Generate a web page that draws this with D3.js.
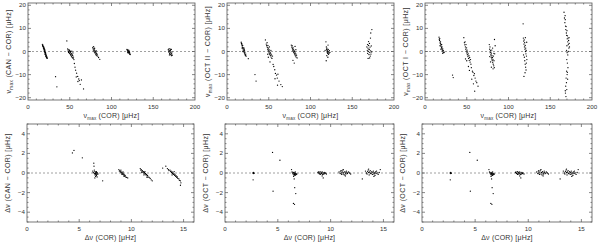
<!DOCTYPE html>
<html>
<head>
<meta charset="utf-8">
<script src="https://cdn.jsdelivr.net/npm/d3@7"></script>
<style>
body{margin:0;background:#fff;}
text{font-family:"Liberation Sans",Arial,sans-serif;fill:#333;}
</style>
</head>
<body>
<div id="grafico"></div>
<script>
const WIDTH = 600;
const HEIGHT = 244;

// nu_max (CAN - COR) vs nu_max (COR)
const numaxCan = [
  [17.2,3.1],[17.5,2.6],[17.8,2.2],[18.0,2.8],[18.3,1.9],[18.5,1.5],[18.7,2.1],[19.0,1.2],[19.2,0.8],[19.4,1.4],[19.6,0.5],[19.8,0.2],[20.0,0.9],[20.1,-0.2],[20.3,-0.5],[20.5,0.3],[20.7,-0.8],[20.9,-1.1],[21.0,-0.4],[21.2,-1.5],[21.4,-1.0],[21.6,-1.9],[21.8,-2.3],[22.0,-1.6],[22.2,-2.6],[22.5,-2.1],[22.8,-3.0],[23.2,-2.8],[19.5,0.0],[20.4,-1.2],[18.9,1.7],[21.1,-2.0],
  [33.0,-10.9],[34.6,-15.3],
  [46.5,4.6],[47.5,1.1],[48.0,0.6],[48.3,0.0],[48.6,-0.4],[49.0,0.8],[49.3,-0.2],[49.6,-0.8],[50.0,0.3],[50.3,-1.0],[50.6,-0.5],[51.0,-1.4],[51.3,-0.1],[51.6,-1.8],[52.0,-0.9],[52.3,-2.2],[52.7,-1.3],[53.0,-2.6],[53.5,-1.7],[54.0,-3.0],[54.5,-2.4],[49.8,0.5],[50.9,0.0],[52.5,0.2],[53.8,-0.6],[55.0,-3.5],[55.5,-5.2],[56.3,-6.8],[57.0,-8.1],[58.2,-9.4],[59.5,-10.8],[60.8,-11.9],[61.5,-12.6],[59.8,-13.0],[62.5,-14.2],[64.0,-12.3],[66.5,-16.2],[57.8,-11.0],
  [77.5,1.8],[78.0,1.2],[78.3,0.6],[78.6,2.1],[79.0,0.2],[79.3,1.0],[79.6,-0.3],[80.0,0.5],[80.3,-0.7],[80.6,0.0],[81.0,-1.1],[81.3,-0.4],[81.6,-1.5],[82.0,-0.9],[82.4,-1.8],[82.8,-1.2],[83.5,-2.0],[84.5,-2.6],[86.0,-3.4],[79.8,1.4],[81.8,0.3],
  [118.5,0.9],[119.0,0.4],[119.3,0.7],[119.6,0.1],[119.9,-0.2],[120.2,0.3],[120.5,-0.5],[120.8,-0.1],[121.1,-0.8],[121.4,-0.4],[121.7,-1.1],[122.0,-0.7],[122.4,-1.3],[119.4,-0.5],[120.6,0.6],[121.5,0.2],
  [168.0,0.8],[168.4,0.2],[168.8,-0.3],[169.2,0.5],[169.6,-0.8],[170.0,0.0],[170.3,-1.2],[170.6,0.4],[171.0,-0.5],[171.3,-1.4],[171.6,0.9],[172.0,-0.9],[172.4,-0.2],[172.8,-1.6],[169.0,1.2],[170.8,1.0],[171.8,-1.8],[169.4,-1.5]
];

// nu_max (OCT II - COR)
const numaxOct2 = [
  [17.0,4.0],[17.3,3.5],[17.6,2.9],[17.9,3.3],[18.2,2.4],[18.5,1.8],[18.8,2.6],[19.1,1.3],[19.4,0.7],[19.7,1.6],[20.0,0.3],[20.3,-0.2],[20.6,0.9],[20.9,-0.6],[21.2,-1.0],[21.5,-0.3],[21.8,-1.4],[22.1,-1.8],[22.5,-1.1],[23.0,-2.0],[19.0,0.0],[20.5,1.5],[18.0,1.5],[21.0,0.4],[25.5,-3.1],
  [33.5,-10.0],[34.8,-12.8],
  [46.0,5.0],[47.0,3.2],[47.5,2.5],[48.0,3.8],[48.3,1.8],[48.7,1.0],[49.0,2.6],[49.4,0.4],[49.7,1.5],[50.0,-0.2],[50.3,0.8],[50.6,-0.8],[51.0,0.2],[51.3,-1.3],[51.7,-0.4],[52.0,-1.8],[52.4,-0.9],[52.8,-2.4],[53.3,-1.5],[53.8,-3.0],[54.5,-2.0],[48.8,-1.2],[50.8,2.0],[52.6,0.5],[49.5,-2.5],[51.5,-4.5],[55.2,-5.6],[56.0,-6.5],[57.2,-7.9],[58.0,-9.5],[59.3,-10.2],[60.2,-11.5],[61.0,-9.8],[62.3,-12.8],[60.5,-14.6],[64.5,-14.3],[66.2,-15.2],[57.5,-11.8],
  [77.0,2.8],[77.5,1.9],[78.0,2.5],[78.3,1.2],[78.6,0.6],[79.0,1.8],[79.3,0.1],[79.6,1.0],[80.0,-0.4],[80.3,0.5],[80.6,-0.9],[81.0,0.0],[81.3,-1.4],[81.6,-0.6],[82.0,-1.9],[82.4,-1.0],[82.8,-2.4],[83.3,-1.6],[84.0,-2.8],[79.0,-3.8],[80.5,-5.0],[81.5,2.2],[82.5,0.8],
  [118.5,4.2],[119.0,2.0],[119.3,0.8],[119.6,1.4],[119.8,0.2],[120.0,-0.3],[120.2,0.6],[120.4,-0.8],[120.6,0.1],[120.9,-0.5],[121.2,0.9],[121.5,-1.2],[121.8,-0.2],[122.2,-0.9],[122.6,0.4],[119.5,-1.8],[120.8,-2.5],[118.8,-4.0],[121.0,2.8],[123.2,-0.4],[117.5,0.5],
  [167.5,2.0],[168.0,0.5],[168.4,-0.8],[168.8,1.5],[169.2,0.0],[169.6,2.6],[170.0,-1.3],[170.3,0.8],[170.6,3.5],[171.0,-0.4],[171.3,1.9],[171.6,-2.0],[172.0,0.3],[172.4,-1.1],[172.8,2.4],[173.2,-0.2],[169.0,-3.0],[170.8,-2.8],[169.5,4.3],[171.8,5.8],[172.2,8.0],[173.5,9.5],[168.3,3.0],[170.1,1.0]
];

// nu_max (OCT I - COR)
const numaxOct1 = [
  [16.8,6.2],[17.1,5.3],[17.4,4.8],[17.7,5.6],[18.0,4.1],[18.3,3.5],[18.6,4.2],[18.9,2.9],[19.2,2.3],[19.5,3.1],[19.8,1.8],[20.1,1.2],[20.4,2.0],[20.7,0.7],[21.0,0.3],[21.3,1.1],[21.6,-0.2],[22.0,0.4],[22.4,-0.5],[23.0,-0.3],[19.0,1.0],[20.0,3.0],[18.0,2.5],[21.2,-0.8],
  [33.0,-10.2],[33.8,-11.3],
  [46.5,6.0],[47.2,3.8],[47.6,2.9],[48.0,4.2],[48.4,2.0],[48.8,1.0],[49.1,3.0],[49.5,0.2],[49.8,1.6],[50.1,-0.6],[50.4,0.6],[50.7,-1.4],[51.0,-0.2],[51.4,-2.2],[51.8,-1.0],[52.2,-3.0],[52.6,-1.8],[53.0,-3.8],[53.5,-2.6],[54.0,-4.6],[54.5,-3.5],[55.0,-5.5],[50.0,-4.0],[52.0,-6.5],[53.2,-8.2],[48.5,-3.2],[55.5,-7.0],[56.8,-8.5],[57.5,-9.0],[58.5,-10.4],[59.2,-9.6],[60.0,-11.5],[61.0,-12.8],[62.0,-13.5],[58.0,-14.0],[59.5,-17.2],[63.5,-15.0],[56.0,-12.0],
  [77.0,3.0],[77.4,1.0],[77.8,2.0],[78.1,-0.5],[78.4,0.5],[78.7,-1.5],[79.0,-0.3],[79.3,-2.5],[79.6,-1.0],[79.9,-3.2],[80.2,-1.8],[80.5,-4.0],[80.8,-2.6],[81.1,-4.8],[81.4,-3.4],[81.7,-5.5],[82.0,-2.0],[82.3,-6.2],[82.6,-4.0],[83.0,-7.0],[80.0,0.6],[81.0,1.5],[82.5,-0.8],[78.5,-4.5],[83.2,5.2],[84.0,2.5],[79.5,-6.8],[81.5,-7.5],[77.5,-2.2],[83.5,-1.0],
  [117.8,5.8],[118.2,4.5],[118.5,3.2],[118.8,5.0],[119.1,2.0],[119.4,3.8],[119.7,1.0],[120.0,2.6],[120.3,0.0],[120.6,1.5],[120.9,-1.0],[121.2,0.5],[121.5,-2.0],[119.0,-2.5],[119.5,-4.0],[120.0,-5.5],[120.5,-6.8],[121.0,-8.0],[119.8,-9.2],[118.5,-10.8],[117.5,12.0],[121.8,4.0],[120.2,6.0],[122.0,-3.5],[118.0,-1.5],[121.4,-5.0],
  [166.5,17.0],[167.0,14.5],[167.5,12.5],[168.0,13.8],[168.3,11.0],[168.6,9.5],[169.0,10.8],[169.3,8.0],[169.6,7.0],[170.0,9.0],[170.3,5.5],[170.6,6.8],[171.0,4.2],[171.3,5.8],[171.6,3.0],[172.0,4.8],[172.3,1.5],[172.6,3.5],[173.0,2.0],[169.5,0.5],[170.2,-0.5],[171.0,-1.5],[169.8,-3.5],[170.5,-5.0],[171.2,-7.0],[169.6,-8.5],[170.2,-10.0],[169.0,-11.5],[170.8,-12.0],[169.4,-13.5],[168.5,-15.0],[169.8,-16.5],[168.2,-18.0],[168.8,-19.5],[170.5,-9.0],[172.5,6.0],[167.8,15.5],[171.5,0.0],[170.0,2.5],[168.0,-17.0]
];

// delta nu (CAN - COR) vs delta nu (COR)
const dnuCan = [
  [4.35,2.05],[4.5,2.3],[5.3,1.55],[7.25,-0.8],
  [6.3,0.2],[6.35,0.05],[6.4,1.0],[6.42,0.7],[6.45,-0.05],[6.5,0.15],[6.52,-0.2],[6.55,0.0],[6.58,-0.35],[6.6,0.1],[6.62,-0.1],[6.65,-0.25],[6.68,0.05],[6.7,-0.15],[6.72,-0.4],[6.75,0.0],[6.5,-0.5],[6.8,-0.1],[6.6,-0.05],[6.45,0.3],[6.55,-0.1],[6.65,0.15],
  [8.8,0.35],[8.85,0.2],[8.9,0.25],[8.95,0.1],[9.0,0.15],[9.05,0.0],[9.1,0.05],[9.15,-0.1],[9.2,-0.05],[9.25,-0.2],[9.3,-0.15],[9.35,-0.3],[9.4,-0.25],[9.45,-0.4],[9.55,-0.45],[9.0,0.3],[9.2,0.1],[9.3,-0.35],[9.1,-0.15],[9.65,-0.5],
  [10.85,0.45],[10.9,0.3],[10.95,0.35],[11.0,0.2],[11.05,0.25],[11.1,0.1],[11.15,0.15],[11.2,0.0],[11.25,0.05],[11.3,-0.1],[11.35,-0.05],[11.4,-0.2],[11.45,-0.15],[11.5,-0.3],[11.55,-0.25],[11.6,-0.4],[11.7,-0.45],[11.8,-0.55],[11.9,-0.7],[12.0,-0.8],[11.0,0.05],[11.3,0.15],[11.5,-0.45],[11.2,-0.2],
  [13.3,0.7],[13.45,0.45],[13.55,0.35],[13.6,0.25],[13.7,0.3],[13.75,0.15],[13.8,0.2],[13.85,0.05],[13.9,0.1],[13.95,-0.05],[14.0,0.0],[14.05,-0.15],[14.1,-0.1],[14.15,-0.25],[14.2,-0.2],[14.25,-0.35],[14.3,-0.3],[14.35,-0.45],[14.4,-0.4],[14.45,-0.55],[14.55,-0.6],[14.6,-0.75],[14.7,-0.8],[14.75,-1.0],[14.7,-1.25],[13.0,0.5],[13.9,-0.2],[14.1,0.15]
];

// delta nu (OCT - COR), same in the two OCT panels
const dnuOct = [
  [2.65,0.0],[2.7,0.05],[2.75,-0.03],[2.7,-0.05],[2.72,0.02],[2.68,0.0],[2.66,-0.7],
  [4.5,2.1],[4.55,-1.85],[5.2,1.3],
  [6.3,0.35],[6.35,0.1],[6.4,0.0],[6.45,-0.1],[6.5,0.05],[6.52,-0.2],[6.55,-0.05],[6.58,-0.15],[6.6,0.0],[6.62,-0.25],[6.65,-0.1],[6.68,-0.2],[6.7,-0.05],[6.75,-0.15],[6.8,-0.1],[6.55,-0.6],[6.6,-1.5],[6.7,-2.1],[6.48,-3.1],[6.58,-3.2],[6.5,-0.35],[6.65,0.1],
  [8.8,0.05],[8.85,0.1],[8.9,-0.05],[8.95,0.0],[9.0,0.15],[9.05,-0.1],[9.1,0.05],[9.15,-0.05],[9.2,0.1],[9.25,-0.15],[9.3,0.0],[9.35,-0.1],[9.4,0.05],[9.45,-0.05],[9.5,0.0],[9.6,-0.1],[9.3,-0.5],[9.0,-0.15],[9.2,-0.3],
  [10.8,0.1],[10.9,-0.05],[10.95,0.2],[11.0,0.0],[11.05,-0.15],[11.1,0.1],[11.15,0.3],[11.2,-0.1],[11.25,0.05],[11.3,-0.2],[11.35,0.15],[11.4,0.0],[11.45,-0.1],[11.5,0.2],[11.55,0.05],[11.6,-0.05],[11.7,0.1],[11.8,0.0],[11.9,-0.1],[11.2,0.35],[11.4,-0.3],[11.0,0.25],
  [13.3,0.2],[13.4,0.0],[13.45,-0.1],[13.5,0.15],[13.55,0.3],[13.6,0.05],[13.65,-0.2],[13.7,0.1],[13.75,0.25],[13.8,-0.05],[13.85,0.0],[13.9,0.15],[13.95,-0.15],[14.0,0.05],[14.05,0.2],[14.1,-0.1],[14.15,0.0],[14.2,-0.25],[14.25,0.1],[14.3,-0.05],[14.4,0.0],[14.5,-0.15],[14.6,0.05],[14.7,0.35],[13.0,-0.6],[13.6,0.4],[14.1,-0.35],[14.35,0.2]
];

// tick values
const numaxXTicks = [0,50,100,150,200];
const numaxYTicks = [-20,-10,0,10,20];
const dnuXTicks = [0,5,10,15];
const dnuYTicks = [-4,-2,0,2,4];

let svg = d3.select("#grafico")
    .append("svg")
    .attr("width",WIDTH)
    .attr("height",HEIGHT);

let top_ = {xDom:[0,200], yDom:[-21,21], xTicks:numaxXTicks, yTicks:numaxYTicks, xMinor:10, yMinor:2, sym:"\u03bd", sub:"max"};
let bot_ = {xDom:[0,16], yDom:[-5,5], xTicks:dnuXTicks, yTicks:dnuYTicks, xMinor:1, yMinor:0.5, sym:"\u0394\u03bd", sub:null};

let panels = [
  Object.assign({data:numaxCan,  box:[28,3,195,100],  who:"CAN \u2212 COR"}, top_),
  Object.assign({data:numaxOct2, box:[227,3,394,100], who:"OCT II \u2212 COR"}, top_),
  Object.assign({data:numaxOct1, box:[425,3,592,100], who:"OCT I \u2212 COR"}, top_),
  Object.assign({data:dnuCan,    box:[27,124,194,222],  who:"CAN \u2212 COR"}, bot_),
  Object.assign({data:dnuOct,    box:[225,124,394,222], who:"OCT \u2212 COR"}, bot_),
  Object.assign({data:dnuOct,    box:[422,124,592,222], who:"OCT \u2212 COR"}, bot_)
];

function addLabel(t, p, rest){
    t.append("tspan").text(p.sym);
    if(p.sub){
        t.append("tspan").attr("font-size","4.5px").attr("dy","1.8").text(p.sub);
        t.append("tspan").attr("dy","-1.8").text(rest);
    }else{
        t.append("tspan").text(rest);
    }
}

panels.forEach((p)=>{
    let [x0,y0,x1,y1] = p.box;
    let x = d3.scaleLinear().domain(p.xDom).range([x0,x1]);
    let y = d3.scaleLinear().domain(p.yDom).range([y1,y0]);
    let g = svg.append("g");

    // zero line
    g.append("line")
        .attr("x1",x0).attr("x2",x1)
        .attr("y1",y(0)).attr("y2",y(0))
        .style("stroke","#888")
        .style("stroke-width",0.8)
        .style("stroke-dasharray","2,2");

    // points
    g.selectAll("circle")
        .data(p.data)
        .enter()
        .append("circle")
        .attr("cx",d=>x(d[0]))
        .attr("cy",d=>y(d[1]))
        .attr("r",0.65)
        .style("fill","#000");

    // ticks, inward on all four sides (IDL style)
    let xMin = d3.range(p.xDom[0], p.xDom[1]+1e-9, p.xMinor).filter(v=>v>p.xDom[0]&&v<p.xDom[1]);
    let yMin = d3.range(Math.ceil(p.yDom[0]/p.yMinor)*p.yMinor, p.yDom[1]+1e-9, p.yMinor);
    let tk = g.append("g").style("stroke","#555").style("stroke-width",0.7);
    xMin.forEach(v=>{
        let L = p.xTicks.includes(v) ? 3 : 1.5;
        tk.append("line").attr("x1",x(v)).attr("x2",x(v)).attr("y1",y1).attr("y2",y1-L);
        tk.append("line").attr("x1",x(v)).attr("x2",x(v)).attr("y1",y0).attr("y2",y0+L);
    });
    yMin.forEach(v=>{
        let isMaj = p.yTicks.some(t=>Math.abs(t-v)<1e-9);
        let L = isMaj ? 3 : 1.5;
        tk.append("line").attr("x1",x0).attr("x2",x0+L).attr("y1",y(v)).attr("y2",y(v));
        tk.append("line").attr("x1",x1).attr("x2",x1-L).attr("y1",y(v)).attr("y2",y(v));
    });

    // frame
    g.append("rect")
        .attr("x",x0).attr("y",y0)
        .attr("width",x1-x0).attr("height",y1-y0)
        .style("fill","none")
        .style("stroke","#555")
        .style("stroke-width",0.8);

    // tick labels
    g.selectAll(".xl")
        .data(p.xTicks)
        .enter()
        .append("text")
        .attr("x",d=>x(d))
        .attr("y",y1+9)
        .attr("text-anchor","middle")
        .style("font-size","6.2px")
        .text(d=>d);
    g.selectAll(".yl")
        .data(p.yTicks)
        .enter()
        .append("text")
        .attr("x",x0-2)
        .attr("y",d=>y(d)+2)
        .attr("text-anchor","end")
        .style("font-size","6.2px")
        .text(d=>d<0 ? "\u2212"+(-d) : d);

    // axis titles
    let xt = g.append("text")
        .attr("x",(x0+x1)/2)
        .attr("y",y1+18)
        .attr("text-anchor","middle")
        .style("font-size","7px")
        .style("letter-spacing","0.2px");
    addLabel(xt, p, " (COR) [\u03bcHz]");

    let yt = g.append("text")
        .attr("transform","translate("+(x0-17)+","+((y0+y1)/2)+") rotate(-90)")
        .attr("text-anchor","middle")
        .style("font-size","7px")
        .style("letter-spacing","0.4px");
    addLabel(yt, p, " ("+p.who+") [\u03bcHz]");
});
</script>
</body>
</html>
